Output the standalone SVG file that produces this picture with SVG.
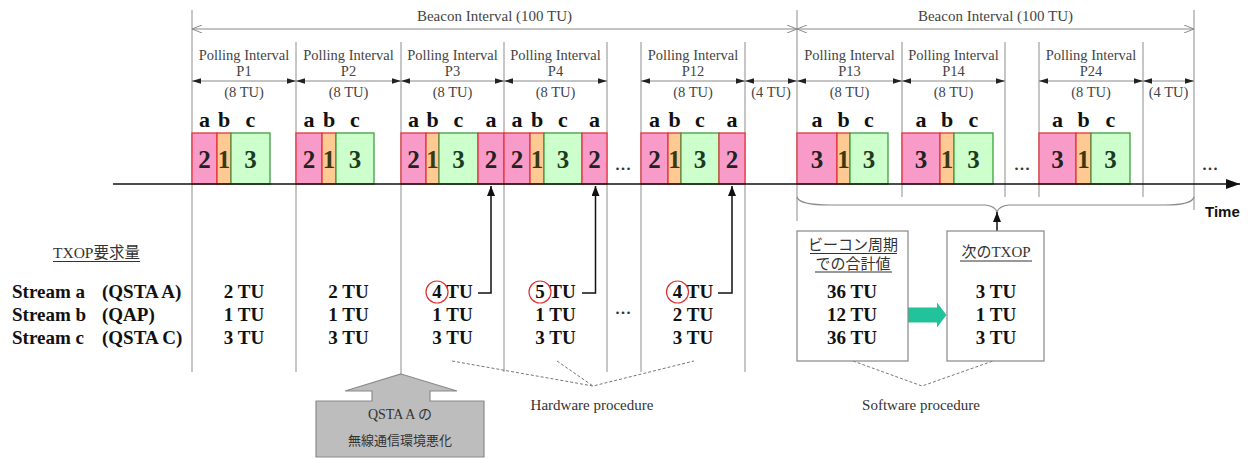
<svg xmlns="http://www.w3.org/2000/svg" width="1248" height="459" viewBox="0 0 1248 459">
<defs>
<style>
.vl{stroke:#a8a8a8;stroke-width:1.3;fill:none}
.dim{stroke:#8a8a8a;stroke-width:1.2;fill:none}
.bea{stroke:#8a8a8a;stroke-width:1.2;fill:none}
.t{font-family:"Liberation Serif","Noto Sans CJK JP",serif}
.pl{font-size:14.5px;text-anchor:middle;fill:#444}
.bt{font-size:15px;text-anchor:middle;fill:#444}
.lab{font-size:22px;font-weight:bold;text-anchor:middle;fill:#111}
.num{font-size:25px;font-weight:bold;text-anchor:middle}
.pk{fill:#F99BC9;stroke:#E2363C;stroke-width:1.3}
.or{fill:#FFC994;stroke:#E2363C;stroke-width:1.3}
.gr{fill:#CCFFCC;stroke:#3E9E3E;stroke-width:1.3}
.npk{fill:#222}
.nor{fill:#3a3a10}
.ngr{fill:#1E3A1E}
.val{font-size:19px;font-weight:bold;text-anchor:middle;fill:#111}
.row{font-size:19px;font-weight:bold;fill:#111}
.dots{font-size:22px;text-anchor:middle;fill:#333}
.dash{stroke:#777;stroke-width:1;stroke-dasharray:3 2;fill:none}
.box{fill:#fff;stroke:#888;stroke-width:1.2}
.ul{stroke:#333;stroke-width:1}
.cjk{font-size:15px;text-anchor:middle;fill:#333}
.up{stroke:#111;stroke-width:1.5;fill:none}
</style>
<marker id="ad" viewBox="0 0 10 6" refX="10" refY="3" markerWidth="9" markerHeight="5.5" orient="auto-start-reverse" markerUnits="userSpaceOnUse"><path d="M0,0 L10,3 L0,6 Z" fill="#222"/></marker>
<marker id="ao" viewBox="0 0 10 8" refX="10" refY="4" markerWidth="10" markerHeight="8" orient="auto-start-reverse" markerUnits="userSpaceOnUse"><path d="M0,0 L10,4 L0,8" fill="none" stroke="#8a8a8a" stroke-width="1"/></marker>
<marker id="at" viewBox="0 0 14 10" refX="14" refY="5" markerWidth="14" markerHeight="10" orient="auto" markerUnits="userSpaceOnUse"><path d="M0,0 L14,5 L0,10 Z" fill="#111"/></marker>
<marker id="au" viewBox="0 0 10 8" refX="10" refY="4" markerWidth="10" markerHeight="8" orient="auto" markerUnits="userSpaceOnUse"><path d="M0,0 L10,4 L0,8 Z" fill="#111"/></marker>
</defs>
<rect width="1248" height="459" fill="#fff"/>

<g id="grid">
<line class="vl" x1="192" y1="10" x2="192" y2="372"/>
<line class="vl" x1="296" y1="42" x2="296" y2="372"/>
<line class="vl" x1="401" y1="42" x2="401" y2="375"/>
<line class="vl" x1="504" y1="42" x2="504" y2="372"/>
<line class="vl" x1="607" y1="42" x2="607" y2="372"/>
<line class="vl" x1="641" y1="42" x2="641" y2="372"/>
<line class="vl" x1="745" y1="42" x2="745" y2="372"/>
<line class="vl" x1="797" y1="10" x2="797" y2="221"/>
<line class="vl" x1="902" y1="42" x2="902" y2="197"/>
<line class="vl" x1="1005" y1="42" x2="1005" y2="197"/>
<line class="vl" x1="1039" y1="42" x2="1039" y2="197"/>
<line class="vl" x1="1143" y1="42" x2="1143" y2="197"/>
<line class="vl" x1="1194" y1="10" x2="1194" y2="210"/>
</g>

<g id="beacon1">
<line class="bea" x1="192" y1="29" x2="797" y2="29" marker-start="url(#ao)" marker-end="url(#ao)"/>
<text class="t bt" x="494.5" y="21">Beacon Interval (100 TU)</text>
</g>
<g id="beacon2">
<line class="bea" x1="797" y1="29" x2="1194" y2="29" marker-start="url(#ao)" marker-end="url(#ao)"/>
<text class="t bt" x="995.5" y="21">Beacon Interval (100 TU)</text>
</g>

<g id="dims">
<line class="dim" x1="192" y1="81" x2="296" y2="81" marker-start="url(#ad)" marker-end="url(#ad)"/>
<line class="dim" x1="296" y1="81" x2="401" y2="81" marker-start="url(#ad)" marker-end="url(#ad)"/>
<line class="dim" x1="401" y1="81" x2="504" y2="81" marker-start="url(#ad)" marker-end="url(#ad)"/>
<line class="dim" x1="504" y1="81" x2="607" y2="81" marker-start="url(#ad)" marker-end="url(#ad)"/>
<line class="dim" x1="641" y1="81" x2="745" y2="81" marker-start="url(#ad)" marker-end="url(#ad)"/>
<line class="dim" x1="745" y1="81" x2="797" y2="81" marker-start="url(#ad)" marker-end="url(#ad)"/>
<line class="dim" x1="797" y1="81" x2="902" y2="81" marker-start="url(#ad)" marker-end="url(#ad)"/>
<line class="dim" x1="902" y1="81" x2="1005" y2="81" marker-start="url(#ad)" marker-end="url(#ad)"/>
<line class="dim" x1="1039" y1="81" x2="1143" y2="81" marker-start="url(#ad)" marker-end="url(#ad)"/>
<line class="dim" x1="1143" y1="81" x2="1194" y2="81" marker-start="url(#ad)" marker-end="url(#ad)"/>
</g>

<g id="p1">
<text class="t pl" x="244" y="60">Polling Interval</text><text class="t pl" x="244" y="76">P1</text><text class="t pl" x="244" y="97">(8 TU)</text>
<rect class="pk" x="192" y="133" width="25" height="51"/><rect class="or" x="217" y="133" width="14" height="51"/><rect class="gr" x="231" y="133" width="39" height="51"/>
<text class="t lab" x="204.5" y="127">a</text><text class="t lab" x="224" y="127">b</text><text class="t lab" x="250.5" y="127">c</text>
<text class="t num npk" x="204.5" y="168">2</text><text class="t num nor" x="224" y="168">1</text><text class="t num ngr" x="250.5" y="168">3</text>
</g>
<g id="p2">
<text class="t pl" x="348.5" y="60">Polling Interval</text><text class="t pl" x="348.5" y="76">P2</text><text class="t pl" x="348.5" y="97">(8 TU)</text>
<rect class="pk" x="296" y="133" width="26" height="51"/><rect class="or" x="322" y="133" width="14" height="51"/><rect class="gr" x="336" y="133" width="38" height="51"/>
<text class="t lab" x="309" y="127">a</text><text class="t lab" x="329" y="127">b</text><text class="t lab" x="355" y="127">c</text>
<text class="t num npk" x="309" y="168">2</text><text class="t num nor" x="329" y="168">1</text><text class="t num ngr" x="355" y="168">3</text>
</g>
<g id="p3">
<text class="t pl" x="452.5" y="60">Polling Interval</text><text class="t pl" x="452.5" y="76">P3</text><text class="t pl" x="452.5" y="97">(8 TU)</text>
<rect class="pk" x="401" y="133" width="25" height="51"/><rect class="or" x="426" y="133" width="13" height="51"/><rect class="gr" x="439" y="133" width="39" height="51"/><rect class="pk" x="478" y="133" width="26" height="51"/>
<text class="t lab" x="413.5" y="127">a</text><text class="t lab" x="432.5" y="127">b</text><text class="t lab" x="458.5" y="127">c</text><text class="t lab" x="491" y="127">a</text>
<text class="t num npk" x="413.5" y="168">2</text><text class="t num nor" x="432.5" y="168">1</text><text class="t num ngr" x="458.5" y="168">3</text><text class="t num npk" x="491" y="168">2</text>
</g>
<g id="p4">
<text class="t pl" x="555.5" y="60">Polling Interval</text><text class="t pl" x="555.5" y="76">P4</text><text class="t pl" x="555.5" y="97">(8 TU)</text>
<rect class="pk" x="504" y="133" width="26" height="51"/><rect class="or" x="530" y="133" width="14" height="51"/><rect class="gr" x="544" y="133" width="38" height="51"/><rect class="pk" x="582" y="133" width="25" height="51"/>
<text class="t lab" x="517" y="127">a</text><text class="t lab" x="537" y="127">b</text><text class="t lab" x="563" y="127">c</text><text class="t lab" x="594.5" y="127">a</text>
<text class="t num npk" x="517" y="168">2</text><text class="t num nor" x="537" y="168">1</text><text class="t num ngr" x="563" y="168">3</text><text class="t num npk" x="594.5" y="168">2</text>
</g>
<g id="p12">
<text class="t pl" x="693" y="60">Polling Interval</text><text class="t pl" x="693" y="76">P12</text><text class="t pl" x="693" y="97">(8 TU)</text>
<rect class="pk" x="641" y="133" width="27" height="51"/><rect class="or" x="668" y="133" width="13" height="51"/><rect class="gr" x="681" y="133" width="38" height="51"/><rect class="pk" x="719" y="133" width="26" height="51"/>
<text class="t lab" x="654.5" y="127">a</text><text class="t lab" x="674.5" y="127">b</text><text class="t lab" x="700" y="127">c</text><text class="t lab" x="732" y="127">a</text>
<text class="t num npk" x="654.5" y="168">2</text><text class="t num nor" x="674.5" y="168">1</text><text class="t num ngr" x="700" y="168">3</text><text class="t num npk" x="732" y="168">2</text>
</g>
<g id="gap1"><text class="t pl" x="771" y="97">(4 TU)</text></g>
<g id="p13">
<text class="t pl" x="849.5" y="60">Polling Interval</text><text class="t pl" x="849.5" y="76">P13</text><text class="t pl" x="849.5" y="97">(8 TU)</text>
<rect class="pk" x="797" y="133" width="40" height="51"/><rect class="or" x="837" y="133" width="13" height="51"/><rect class="gr" x="850" y="133" width="38" height="51"/>
<text class="t lab" x="817" y="127">a</text><text class="t lab" x="843.5" y="127">b</text><text class="t lab" x="869" y="127">c</text>
<text class="t num npk" x="817" y="168">3</text><text class="t num nor" x="843.5" y="168">1</text><text class="t num ngr" x="869" y="168">3</text>
</g>
<g id="p14">
<text class="t pl" x="953.5" y="60">Polling Interval</text><text class="t pl" x="953.5" y="76">P14</text><text class="t pl" x="953.5" y="97">(8 TU)</text>
<rect class="pk" x="902" y="133" width="38" height="51"/><rect class="or" x="940" y="133" width="14" height="51"/><rect class="gr" x="954" y="133" width="39" height="51"/>
<text class="t lab" x="921" y="127">a</text><text class="t lab" x="947" y="127">b</text><text class="t lab" x="973.5" y="127">c</text>
<text class="t num npk" x="921" y="168">3</text><text class="t num nor" x="947" y="168">1</text><text class="t num ngr" x="973.5" y="168">3</text>
</g>
<g id="p24">
<text class="t pl" x="1091" y="60">Polling Interval</text><text class="t pl" x="1091" y="76">P24</text><text class="t pl" x="1091" y="97">(8 TU)</text>
<rect class="pk" x="1039" y="133" width="37" height="51"/><rect class="or" x="1076" y="133" width="15" height="51"/><rect class="gr" x="1091" y="133" width="39" height="51"/>
<text class="t lab" x="1057.5" y="127">a</text><text class="t lab" x="1083.5" y="127">b</text><text class="t lab" x="1110.5" y="127">c</text>
<text class="t num npk" x="1057.5" y="168">3</text><text class="t num nor" x="1083.5" y="168">1</text><text class="t num ngr" x="1110.5" y="168">3</text>
</g>
<g id="gap2"><text class="t pl" x="1168.5" y="97">(4 TU)</text></g>

<g id="ellipses">
<text class="t dots" x="623" y="170">...</text>
<text class="t dots" x="1022" y="170">...</text>
<text class="t dots" x="1210" y="170">...</text>
<text class="t dots" x="623" y="314">...</text>
</g>

<g id="timeline">
<line x1="113" y1="184" x2="1240" y2="184" stroke="#111" stroke-width="1.5" marker-end="url(#at)"/>
<text x="1205" y="217" font-family="Liberation Sans, Arial, sans-serif" font-size="15" font-weight="bold" fill="#111">Time</text>
</g>

<g id="table">
<text class="t" x="53" y="258" font-size="15.5" fill="#333">TXOP要求量</text>
<line class="ul" x1="53" y1="261.5" x2="140" y2="261.5"/>
<text class="t row" x="12" y="298">Stream a</text><text class="t row" x="102" y="298">(QSTA A)</text>
<text class="t row" x="12" y="321">Stream b</text><text class="t row" x="102" y="321">(QAP)</text>
<text class="t row" x="12" y="344">Stream c</text><text class="t row" x="102" y="344">(QSTA C)</text>
<text class="t val" x="244" y="298">2 TU</text><text class="t val" x="244" y="321">1 TU</text><text class="t val" x="244" y="344">3 TU</text>
<text class="t val" x="348.5" y="298">2 TU</text><text class="t val" x="348.5" y="321">1 TU</text><text class="t val" x="348.5" y="344">3 TU</text>
<text class="t val" x="452.5" y="298">4 TU</text><text class="t val" x="452.5" y="321">1 TU</text><text class="t val" x="452.5" y="344">3 TU</text>
<text class="t val" x="555.5" y="298">5 TU</text><text class="t val" x="555.5" y="321">1 TU</text><text class="t val" x="555.5" y="344">3 TU</text>
<text class="t val" x="693" y="298">4 TU</text><text class="t val" x="693" y="321">2 TU</text><text class="t val" x="693" y="344">3 TU</text>
<circle cx="437" cy="292" r="11" fill="none" stroke="#E03030" stroke-width="1.2"/>
<circle cx="540" cy="292" r="11" fill="none" stroke="#E03030" stroke-width="1.2"/>
<circle cx="677.5" cy="292" r="11" fill="none" stroke="#E03030" stroke-width="1.2"/>
</g>

<g id="connectors">
<path class="up" d="M478,293 H491 V186" marker-end="url(#au)"/>
<path class="up" d="M582,293 H595.5 V186" marker-end="url(#au)"/>
<path class="up" d="M718,293 H732 V186" marker-end="url(#au)"/>
<path d="M797,197 Q799,205 830,205 L985,205 Q995,206 997,212 Q999,206 1009,205 L1165,205 Q1192,205 1194,197" fill="none" stroke="#8a8a8a" stroke-width="1.2"/>
<line class="up" x1="997" y1="231" x2="997" y2="212" marker-end="url(#au)"/>
<path d="M908,307.5 H937 V302.5 L946.5,315 L937,327.5 V322.5 H908 Z" fill="#22C39A"/>
<polyline class="dash" points="452,361 593,386 694,361"/>
<line class="dash" x1="557" y1="361" x2="593" y2="386"/>
<polyline class="dash" points="853,361 922,386 993,361"/>
</g>

<g id="sumbox">
<rect class="box" x="797" y="231" width="111" height="130"/>
<text class="t cjk" x="853" y="250">ビーコン周期</text>
<line class="ul" x1="810" y1="253.5" x2="897" y2="253.5"/>
<text class="t cjk" x="853" y="268.5">での合計値</text>
<line class="ul" x1="815" y1="272" x2="892" y2="272"/>
<text class="t val" x="852" y="298">36 TU</text><text class="t val" x="852" y="321">12 TU</text><text class="t val" x="852" y="344">36 TU</text>
</g>

<g id="nextbox">
<rect class="box" x="947" y="231" width="97" height="130"/>
<text class="t cjk" x="996" y="257">次のTXOP</text>
<line class="ul" x1="960" y1="261" x2="1032" y2="261"/>
<text class="t val" x="996" y="298">3 TU</text><text class="t val" x="996" y="321">1 TU</text><text class="t val" x="996" y="344">3 TU</text>
</g>

<g id="hw"><text class="t" x="592" y="410" font-size="15" text-anchor="middle" fill="#333">Hardware procedure</text></g>
<g id="sw"><text class="t" x="921" y="410" font-size="15" text-anchor="middle" fill="#333">Software procedure</text></g>

<g id="event">
<path d="M401,374 L457,391 L430,391 L430,401 L484,401 L484,457 L316,457 L316,401 L372,401 L372,391 L345,391 Z" fill="#BDBDBD" stroke="#8a8a8a" stroke-width="1.2"/>
<text class="t" x="400" y="419" font-size="14" text-anchor="middle" fill="#333">QSTA A の</text>
<text class="t" x="400" y="445" font-size="13" text-anchor="middle" fill="#333">無線通信環境悪化</text>
</g>
</svg>
